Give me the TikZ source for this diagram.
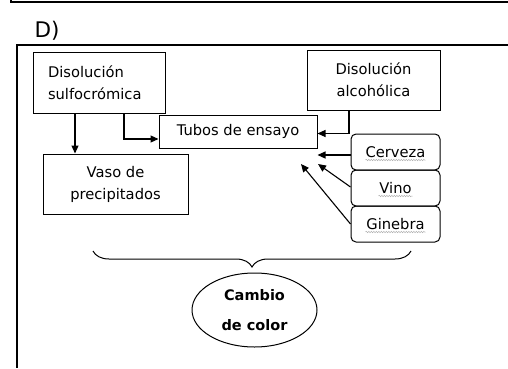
\documentclass[tikz,border=0pt]{standalone}
\usepackage{fontspec}
\setmainfont{DejaVu Sans}
\usetikzlibrary{arrows.meta, shapes.geometric, decorations.pathreplacing, decorations.pathmorphing}

\begin{document}
\begin{tikzpicture}[x=1pt, y=1pt, line width=1.1pt,
  box/.style={draw, line width=1pt, align=center, inner sep=0pt, font=\fontsize{14.7}{22}\selectfont},
  drink/.style={box, rounded corners=5pt, minimum width=89pt, minimum height=36pt},
  arr/.style={-{Triangle[length=8pt, width=7pt]}, line width=1.1pt},
  squiggle/.style={gray!60, line width=0.5pt, decorate, decoration={snake, amplitude=0.7pt, segment length=2.5pt}}]
  \useasboundingbox (0,0) rectangle (508,368);

  % page frame
  \draw (11,368) -- (11,366) -- (508,366);
  \node (title) at (47,337) {\fontsize{21.5}{24}\selectfont D)};
  \draw (508,323) -- (17,323) -- (17,0);

  % boxes
  \node[box, minimum width=132pt, minimum height=61pt, align=left, text width=102pt] (sulfo) at (99,285.5) {Disolución\\sulfocrómica};
  \node[box, minimum width=133pt, minimum height=60pt] (alco) at (373.5,288) {Disolución\\alcohólica};
  \node[box, minimum width=158pt, minimum height=33pt] (tubos) at (238,236.5) {Tubos de ensayo};
  \node[box, minimum width=145pt, minimum height=60pt] (vaso) at (115.5,184) {Vaso de\\precipitados};

  % drinks
  \node[drink] (cerveza) at (395.5,216) {Cerveza};
  \node[drink] (vino) at (395.5,180) {Vino};
  \node[drink] (ginebra) at (395.5,144) {Ginebra};
  \draw[squiggle] ([xshift=-30pt,yshift=-8pt]cerveza.center) -- ++(60pt,0);
  \draw[squiggle] ([xshift=-17pt,yshift=-8pt]vino.center) -- ++(34pt,0);
  \draw[squiggle] ([xshift=-30pt,yshift=-8pt]ginebra.center) -- ++(60pt,0);

  % arrows
  \draw[arr] ([xshift=-24pt]sulfo.south) -- ([xshift=-24pt]sulfo.south |- vaso.north);
  \draw[arr] ([xshift=25pt]sulfo.south) |- ([yshift=-7.5pt]tubos.west);
  \draw[arr] ([xshift=-24.5pt]alco.south) |- ([yshift=-2pt]tubos.east);
  \draw[arr] ([yshift=-3pt]cerveza.west) -- ([yshift=-3pt]cerveza.west -| tubos.east);
  \coordinate (near) at (318,204);
  \coordinate (far) at (301,204);
  \draw[arr] ([yshift=1pt]vino.west) -- (near);
  \draw[arr] (ginebra.west) -- (far);

  % result
  \draw[decorate, decoration={brace, amplitude=16pt}, line width=1pt] (411,117) -- (93,117);
  \node[draw, ellipse, line width=1pt, minimum width=125pt, minimum height=74pt, inner sep=0pt, align=center, font=\bfseries\fontsize{14.5}{30}\selectfont] (cambio) at (254.5,58) {Cambio\\de color};
\end{tikzpicture}
\end{document}
